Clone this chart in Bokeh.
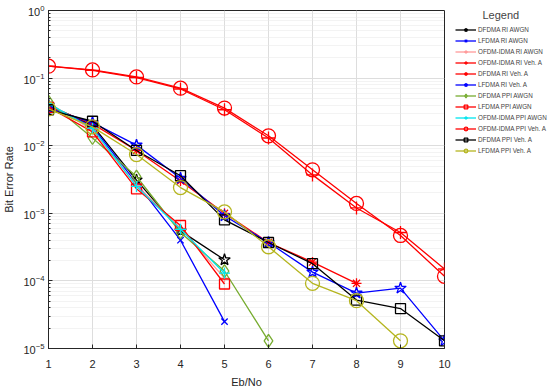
from bokeh.plotting import figure
from bokeh.models import Legend, LegendItem, FixedTicker, LogTicker
from bokeh.embed import file_html
from bokeh.resources import INLINE

ebno = [1, 2, 3, 4, 5, 6, 7, 8, 9, 10]

dfdma_ri_awgn = [0.040, 0.020, 0.0031, 0.00055, 2.05e-4]
lfdma_ri_awgn = [0.040, 0.019, 0.0028, 0.00040, 2.5e-5]
ofdm_ri_awgn = [0.043, 0.017, 0.0026, 0.00060, 1.1e-4]
ofdm_ri_veha = [0.150, 0.130, 0.102, 0.069, 0.034, 0.013, 0.0037, 0.0012, 5.2e-4, 1.5e-4]
dfdma_ri_veha = [0.038, 0.021, 0.0085, 0.0030, 0.0010, 3.7e-4, 1.9e-4, 9.2e-5]
lfdma_ri_veha = [0.036, 0.022, 0.0102, 0.0033, 0.00092, 3.7e-4, 1.35e-4, 6.6e-5, 7.8e-5, 1.3e-5]
dfdma_ppi_awgn = [0.045, 0.013, 0.0035, 0.00052, 1.4e-4, 1.3e-5]
lfdma_ppi_awgn = [0.037, 0.016, 0.0023, 0.00066, 9.0e-5]
ofdm_ppi_awgn = [0.042, 0.018, 0.0025, 0.00058, 1.3e-4]
ofdm_ppi_veha = [0.150, 0.132, 0.104, 0.071, 0.036, 0.014, 0.0044, 0.0014, 4.7e-4, 1.17e-4]
dfdma_ppi_veha = [0.034, 0.023, 0.0085, 0.0036, 0.00080, 3.7e-4, 1.8e-4, 5.2e-5, 3.9e-5, 1.3e-5]
lfdma_ppi_veha = [0.035, 0.019, 0.0074, 0.0024, 0.00105, 3.2e-4, 9.2e-5, 5.1e-5, 1.3e-5]

names = ["DFDMA RI AWGN", "LFDMA RI AWGN", "OFDM-IDMA RI AWGN", "OFDM-IDMA RI Veh. A",
         "DFDMA RI Veh. A", "LFDMA RI Veh. A", "DFDMA PPI AWGN", "LFDMA PPI AWGN",
         "OFDM-IDMA PPI AWGN", "OFDM-IDMA PPI Veh. A", "DFDMA PPI Veh. A", "LFDMA PPI Veh. A"]
values = [dfdma_ri_awgn, lfdma_ri_awgn, ofdm_ri_awgn, ofdm_ri_veha, dfdma_ri_veha, lfdma_ri_veha,
          dfdma_ppi_awgn, lfdma_ppi_awgn, ofdm_ppi_awgn, ofdm_ppi_veha, dfdma_ppi_veha, lfdma_ppi_veha]
colors = ["#000000", "#0000ff", "#ff9999", "#ff0000", "#ff0000", "#0000ff",
          "#77ac30", "#ff0000", "#00e5ee", "#ff0000", "#000000", "#b5b51f"]
markers = ["star", "x", "cross", "cross", "asterisk", "star", "diamond", "square",
           "cross", "circle", "square", "circle"]
sizes = [12, 9, 8, 13, 10, 12, 13, 10, 11, 14, 10, 14]

FONT = "Liberation Sans"

p = figure(frame_width=396, frame_height=338, y_axis_type="log",
           x_range=(1, 10), y_range=(1e-5, 1),
           output_backend="svg", toolbar_location=None,
           min_border_left=43, min_border_top=10, min_border_bottom=40, min_border_right=0,
           background_fill_color="white", border_fill_color="white")

items = []
for nm, v, c, m, s in zip(names, values, colors, markers, sizes):
    xs = ebno[:len(v)]
    r1 = p.line(xs, v, line_color=c, line_width=1.3)
    r2 = p.scatter(xs, v, marker=m, size=s, line_color=c, fill_color=None, line_width=1.3)
    items.append(LegendItem(label=nm, renderers=[r1, r2]))

legend = Legend(items=items, location=(11, 193), border_line_color=None,
                background_fill_alpha=0, label_text_font=FONT, label_text_font_size="6.3px",
                label_height=9, glyph_height=9, glyph_width=21, spacing=2,
                label_standoff=2, padding=0, margin=0,
                title="\u00a0" * 9 + "Legend", title_text_font=FONT,
                title_text_font_size="11px", title_text_font_style="normal",
                title_standoff=4)
p.add_layout(legend, "right")
p.min_border_right = 11

p.xaxis.ticker = FixedTicker(ticks=ebno)
p.yaxis.ticker = LogTicker(num_minor_ticks=10)

for ax in (p.xaxis, p.yaxis):
    ax.axis_line_color = "#262626"
    ax.major_tick_line_color = "#262626"
    ax.minor_tick_line_color = "#262626"
    ax.major_tick_in = 4
    ax.major_tick_out = 0
    ax.minor_tick_in = 2
    ax.minor_tick_out = 0
    ax.major_label_text_font = FONT
    ax.major_label_text_font_size = "11px"
    ax.major_label_text_color = "#262626"
    ax.axis_label_text_font = FONT
    ax.axis_label_text_font_size = "11px"
    ax.axis_label_text_font_style = "normal"
    ax.axis_label_text_color = "#262626"

p.xaxis.axis_label = "Eb/No"
p.yaxis.axis_label = "Bit Error Rate"
p.xaxis.major_label_standoff = 11
p.xaxis.axis_label_standoff = 5
p.yaxis.major_label_standoff = 4
p.yaxis.axis_label_standoff = 5
p.xaxis.minor_tick_line_color = None

p.outline_line_color = "#262626"
p.xgrid.grid_line_color = "#dddddd"
p.ygrid.grid_line_color = "#dddddd"
p.ygrid.minor_grid_line_color = "#e6e6e6"
p.ygrid.minor_grid_line_dash = "1 1"

open("out.html", "w").write(file_html(p, INLINE))
